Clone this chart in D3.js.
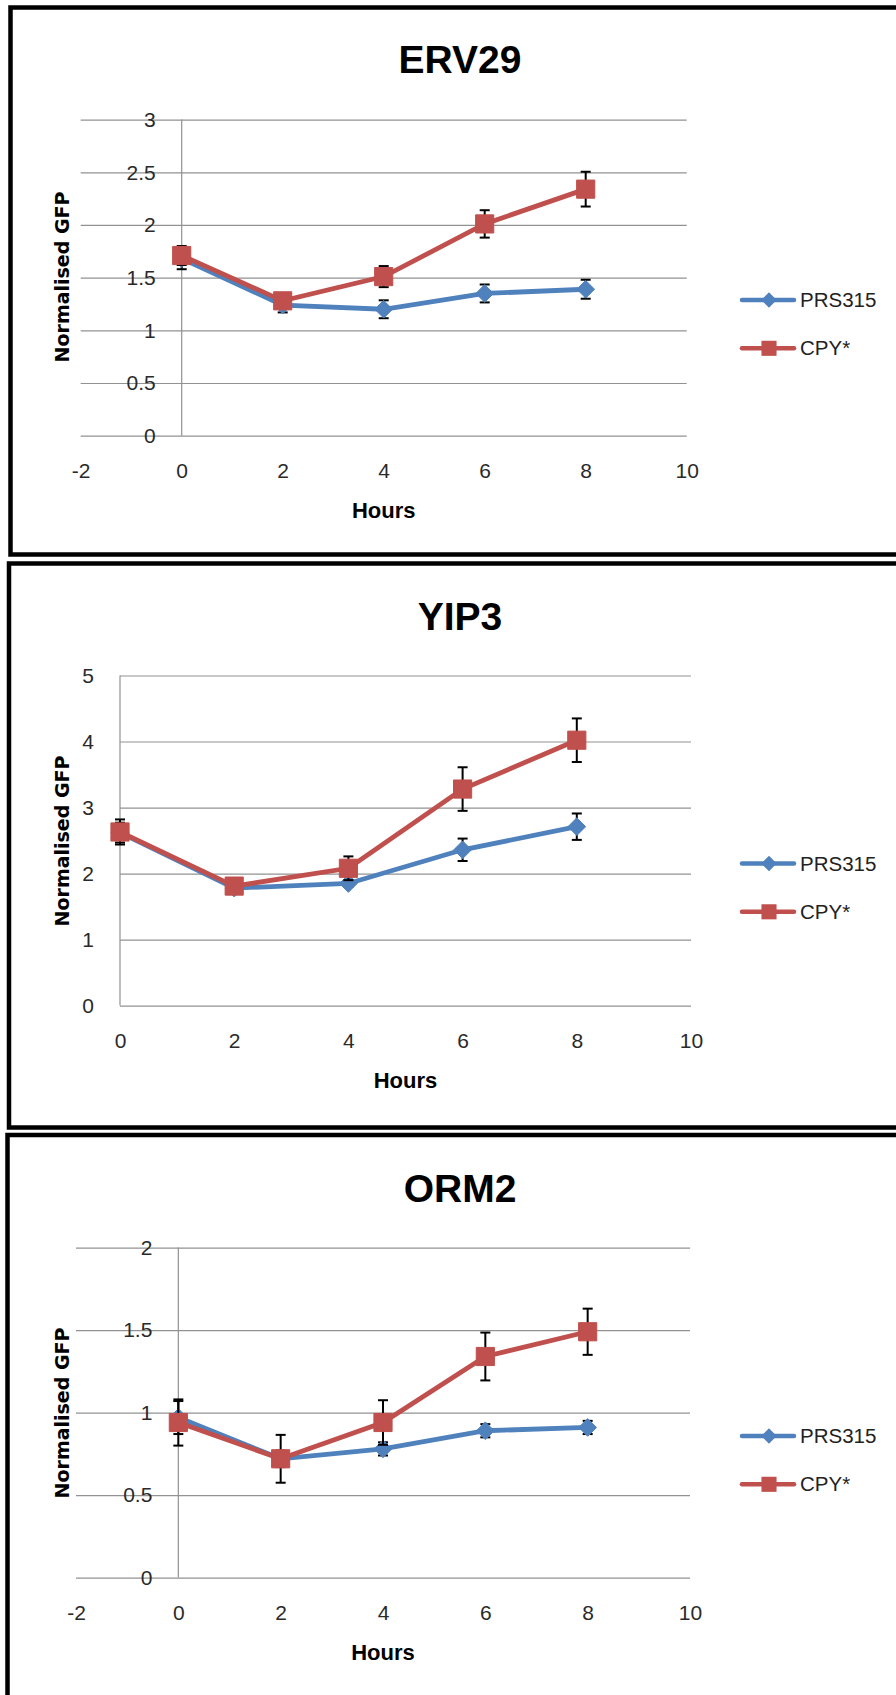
<!DOCTYPE html>
<html>
<head>
<meta charset="utf-8">
<script src="https://cdn.jsdelivr.net/npm/d3@7"></script>
<style>
  body { margin: 0; background: #fff; }
  svg { display: block; }
</style>
</head>
<body>
<div id="canvas"></div>
<script>
// data
const hours = [0, 2, 4, 6, 8]
const seriesNames = ["PRS315", "CPY*"]
const chartTitles = ["ERV29", "YIP3", "ORM2"]

const erv29Prs = [1.68, 1.24, 1.20, 1.35, 1.39]
const erv29PrsErr = [0.10, 0.07, 0.085, 0.085, 0.09]
const erv29Cpy = [1.71, 1.28, 1.51, 2.01, 2.34]
const erv29CpyErr = [0.09, 0.05, 0.10, 0.13, 0.165]

const yip3Prs = [2.62, 1.78, 1.85, 2.36, 2.71]
const yip3PrsErr = [0.15, 0.05, 0.05, 0.17, 0.20]
const yip3Cpy = [2.63, 1.81, 2.08, 3.28, 4.02]
const yip3CpyErr = [0.19, 0.06, 0.18, 0.33, 0.33]

const orm2Prs = [0.97, 0.72, 0.78, 0.89, 0.91]
const orm2PrsErr = [0.10, 0.05, 0.04, 0.04, 0.04]
const orm2Cpy = [0.94, 0.72, 0.94, 1.34, 1.49]
const orm2CpyErr = [0.14, 0.145, 0.135, 0.145, 0.14]

// axis ticks
const xTicksWide = [-2, 0, 2, 4, 6, 8, 10]
const xTicksNarrow = [0, 2, 4, 6, 8, 10]
const yTicksErv29 = [0, 0.5, 1, 1.5, 2, 2.5, 3]
const yTicksYip3 = [0, 1, 2, 3, 4, 5]
const yTicksOrm2 = [0, 0.5, 1, 1.5, 2]

const blue = "#4F81BD"
const red = "#C0504D"
const font = "'Liberation Sans', Arial, sans-serif"
const plain = d => String(d)

const svg = d3.select("#canvas").append("svg").attr("width", 896).attr("height", 1695)
svg.append("rect").attr("width", 896).attr("height", 1695).attr("fill", "#fff")

// one entry per panel: layout + which arrays to use
const panels = [
  { title: chartTitles[0], box: [10.5, 7.5, 547], titleY: 73,
    x0: 80.7, x1: 686.7, y0: 435.7, y1: 119.6, xTicks: xTicksWide, yTicks: yTicksErv29,
    yTitleY: 277, legY: 300,
    series: [[erv29Prs, erv29PrsErr], [erv29Cpy, erv29CpyErr]] },
  { title: chartTitles[1], box: [9, 563.5, 564], titleY: 630,
    x0: 120, x1: 691, y0: 1005.6, y1: 675.5, xTicks: xTicksNarrow, yTicks: yTicksYip3,
    yTitleY: 841, legY: 863.5,
    series: [[yip3Prs, yip3PrsErr], [yip3Cpy, yip3CpyErr]] },
  { title: chartTitles[2], box: [7.5, 1135, 600], titleY: 1202,
    x0: 76, x1: 690, y0: 1577.6, y1: 1247.6, xTicks: xTicksWide, yTicks: yTicksOrm2,
    yTitleY: 1413, legY: 1436,
    series: [[orm2Prs, orm2PrsErr], [orm2Cpy, orm2CpyErr]] }
]

panels.forEach(p => {
  const g = svg.append("g")

  // panel frame
  g.append("rect").attr("x", p.box[0]).attr("y", p.box[1]).attr("width", 920).attr("height", p.box[2])
    .attr("fill", "none").attr("stroke", "#000").attr("stroke-width", 4.5)

  const x = d3.scaleLinear().domain(d3.extent(p.xTicks)).range([p.x0, p.x1])
  const y = d3.scaleLinear().domain(d3.extent(p.yTicks)).range([p.y0, p.y1])

  // title
  g.append("text").attr("x", 460).attr("y", p.titleY).attr("text-anchor", "middle")
    .style("font-family", font).style("font-weight", "bold").style("font-size", "39px").text(p.title)

  // gridlines
  const grid = g.append("g").attr("transform", `translate(${p.x0},0)`)
    .call(d3.axisRight(y).tickValues(p.yTicks).tickSize(p.x1 - p.x0).tickFormat(""))
  grid.select(".domain").remove()
  grid.selectAll("line").attr("stroke", "#929292").attr("stroke-width", 1.2)

  // vertical axis line at x = 0
  g.append("line").attr("x1", x(0)).attr("x2", x(0)).attr("y1", y.range()[1]).attr("y2", y.range()[0])
    .attr("stroke", "#929292").attr("stroke-width", 1.2)

  // y tick labels next to x = 0
  const ya = g.append("g").attr("transform", `translate(${x(0)},0)`)
    .call(d3.axisLeft(y).tickValues(p.yTicks).tickSize(0).tickPadding(26).tickFormat(plain))
  ya.select(".domain").remove()
  ya.selectAll("text").style("font-family", font).style("font-size", "21px").attr("fill", "#2a2a2a")

  // x tick labels
  const xa = g.append("g").attr("transform", `translate(0,${p.y0})`)
    .call(d3.axisBottom(x).tickValues(p.xTicks).tickSize(0).tickPadding(27).tickFormat(plain))
  xa.select(".domain").remove()
  xa.selectAll("text").style("font-family", font).style("font-size", "21px").attr("fill", "#2a2a2a")

  // axis titles
  g.append("text").attr("x", (p.x0 + p.x1) / 2).attr("y", p.y0 + 82).attr("text-anchor", "middle")
    .style("font-family", font).style("font-weight", "bold").style("font-size", "22px").text("Hours")
  g.append("text").attr("transform", `translate(69,${p.yTitleY}) rotate(-90)`).attr("text-anchor", "middle")
    .style("font-family", "'DejaVu Sans', Verdana, sans-serif").style("font-weight", "bold").style("font-size", "19px")
    .text("Normalised GFP")

  const line = d3.line().x((d, i) => x(hours[i])).y(d => y(d))

  p.series.forEach(([vals, errs], si) => {
    const col = si === 0 ? blue : red
    g.append("path").attr("d", line(vals)).attr("fill", "none").attr("stroke", col).attr("stroke-width", 4.8)

    // error bars
    const eb = g.append("g").attr("stroke", "#000").attr("stroke-width", 2)
    vals.forEach((v, i) => {
      const cx = x(hours[i])
      eb.append("line").attr("x1", cx).attr("x2", cx).attr("y1", y(v - errs[i])).attr("y2", y(v + errs[i]))
      eb.append("line").attr("x1", cx - 5).attr("x2", cx + 5).attr("y1", y(v - errs[i])).attr("y2", y(v - errs[i]))
      eb.append("line").attr("x1", cx - 5).attr("x2", cx + 5).attr("y1", y(v + errs[i])).attr("y2", y(v + errs[i]))
    })

    // markers
    const sym = d3.symbol().type(si === 0 ? d3.symbolDiamond2 : d3.symbolSquare2).size(si === 0 ? 200 : 420)
    g.selectAll(null).data(vals).enter().append("path")
      .attr("d", sym)
      .attr("transform", (d, i) => `translate(${x(hours[i])},${y(d)})`)
      .attr("fill", col).attr("stroke", col).attr("stroke-width", 1)

    // legend
    const ly = p.legY + si * 48.3
    g.append("line").attr("x1", 742).attr("x2", 794).attr("y1", ly).attr("y2", ly)
      .attr("stroke", col).attr("stroke-width", 4.5).attr("stroke-linecap", "round")
    g.append("path").attr("d", d3.symbol().type(si === 0 ? d3.symbolDiamond2 : d3.symbolSquare2).size(si === 0 ? 150 : 290))
      .attr("transform", `translate(769,${ly})`).attr("fill", col)
    g.append("text").attr("x", 800).attr("y", ly + 7).style("font-family", font).style("font-size", "20.5px")
      .attr("fill", "#222").text(seriesNames[si])
  })
})
</script>
</body>
</html>
